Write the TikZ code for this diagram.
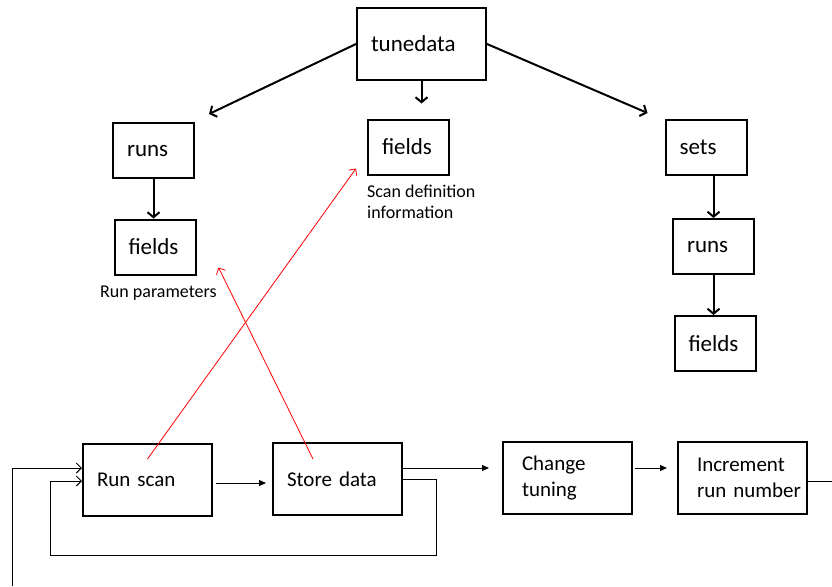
\documentclass[tikz,border=0pt]{standalone}
\usepackage{fontspec}
\setmainfont{Carlito}
\usetikzlibrary{
    arrows.meta
}
\tikzset {
    box/.style = {draw, line width = 2pt, inner ysep = 0pt, inner xsep = 14pt, align = left},
    field box/.style = {box, text width = 53pt, minimum height = 55pt, font = \fontsize{23}{27}\selectfont},
    step box/.style = {box, text width = 101pt, minimum height = 72pt, font = \fontsize{21}{26}\selectfont},
    note/.style = {inner sep = 0pt, align = left, font = \fontsize{18}{21}\selectfont},
    %
    tree arrow/.style = {line width = 2pt, -{Straight Barb[length = 5pt, width = 12pt]}},
    flow arrow/.style = {line width = 1pt, -{Triangle[length = 7pt, width = 6pt]}},
    back arrow/.style = {line width = 1pt, -{Straight Barb[length = 5pt, width = 10pt]}},
    link arrow/.style = {red, line width = 0.8pt, -{Straight Barb[length = 5pt, width = 10pt]}}
}

\begin{document}
\begin{tikzpicture}[x = 1pt, y = -1pt]
    \useasboundingbox (0, 0) rectangle (832, 586);

    % data tree
    \node (tune) [field box, text width = 101pt, minimum height = 72pt] at (421.5, 44) {tunedata};
    \node (runs) [field box] at (153.5, 150.5) {runs};
    \node (runfields) [field box] at (155, 247) {fields};
    \node (scanfields) [field box] at (408.5, 147) {fields};
    \node (sets) [field box] at (706, 147.5) {sets};
    \node (setruns) [field box] at (713.5, 246.5) {runs};
    \node (setfields) [field box] at (715, 343.5) {fields};

    \node (runnote) [note, anchor = base west] at (100, 297) {Run parameters};
    \node (scannote) [note, anchor = north west] at (367, 185) {Scan definition\\information};

    \draw [tree arrow] (tune.west) -- ([xshift = 14pt, yshift = 8pt]runs.north east);
    \draw [tree arrow, shorten > = 15pt] (tune.south) -- (tune.south |- scanfields.north);
    \draw [tree arrow] (tune.east) -- ([xshift = -17pt, yshift = 6pt]sets.north west);
    \draw [tree arrow] (runs.south) -- (runs.south |- runfields.north);
    \draw [tree arrow] (setruns.north |- sets.south) -- (setruns.north);
    \draw [tree arrow] (setruns.south) -- (setruns.south |- setfields.north);

    % scan loop
    \node (run) [step box] at (147.5, 479.5) {Run scan};
    \node (store) [step box] at (337.5, 479) {Store data};
    \node (change) [step box, inner xsep = 19pt, text width = 91pt] at (567.5, 478) {Change\\tuning};
    \node (incr) [step box, inner xsep = 19pt, text width = 91pt] at (742.5, 477.5) {Increment\\\mbox{run number}};

    \coordinate (loopin) at (12, 586);
    \coordinate (loopout) at (832, 481);

    \draw [flow arrow, shorten < = 3pt, shorten > = 6pt]
        ([yshift = -3.5pt]run.east) -- ([yshift = -3.5pt]run.east -| store.west);
    \draw [flow arrow, shorten > = 13pt]
        ([yshift = 11pt]store.east) -- ([yshift = 11pt]store.east -| change.west);
    \draw [flow arrow, shorten < = 2pt, shorten > = 10pt]
        ([yshift = 10pt]change.east) -- ([yshift = 10pt]change.east -| incr.west);

    \draw [back arrow] (store.east) -- ++(33, 0) |- (50, 555) |- ([yshift = -1.5pt]run.west);
    \draw [back arrow] (loopin) |- ([yshift = 11.5pt]run.west);
    \draw [line width = 1pt] ([yshift = -3.5pt]incr.east) -- (loopout);

    % where the data goes
    \draw [link arrow] ([yshift = 20.5pt]run.center) -- ([xshift = -11pt, yshift = 7pt]scanfields.south west);
    \draw [link arrow] ([xshift = -24.5pt, yshift = 20pt]store.center) -- ([xshift = 22pt, yshift = 8pt]runfields.south east);
\end{tikzpicture}
\end{document}
